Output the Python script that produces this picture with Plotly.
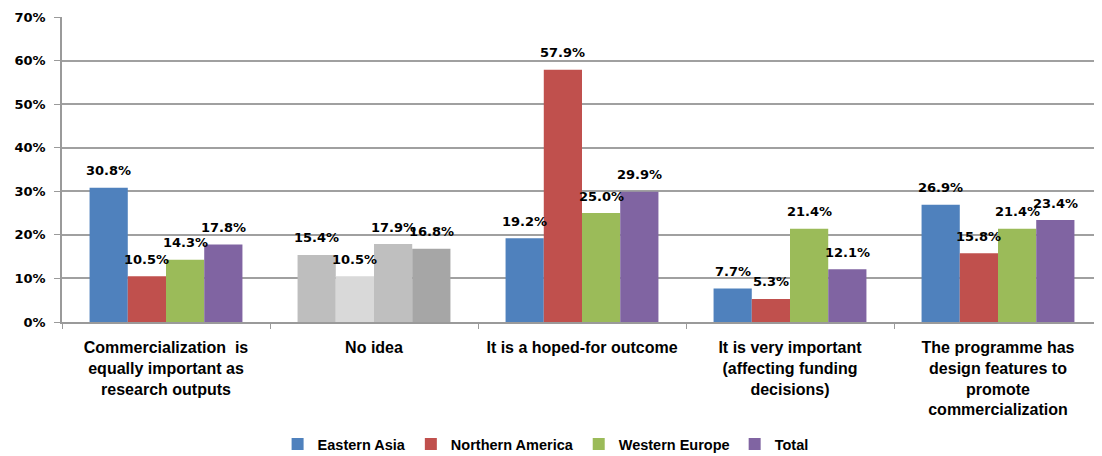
import plotly.graph_objects as go

categories = [
    "Commercialization  is<br>equally important as<br>research outputs",
    "No idea",
    "It is a hoped-for outcome",
    "It is very important<br>(affecting funding<br>decisions)",
    "The programme has<br>design features to<br>promote<br>commercialization",
]
series_names = ["Eastern Asia", "Northern America", "Western Europe", "Total"]
eastern_asia = [0.308, 0.154, 0.192, 0.077, 0.269]
northern_america = [0.105, 0.105, 0.579, 0.053, 0.158]
western_europe = [0.143, 0.179, 0.250, 0.214, 0.214]
total = [0.178, 0.168, 0.299, 0.121, 0.234]
series_values = [eastern_asia, northern_america, western_europe, total]
series_colors = ["#4F81BD", "#C0504D", "#9BBB59", "#8064A2"]
no_idea_colors = ["#BEBEBE", "#D9D9D9", "#BFBFBF", "#A6A6A6"]
y_ticks = [0, 0.1, 0.2, 0.3, 0.4, 0.5, 0.6, 0.7]

# layout geometry (page body has an 8px margin)
W, H = 1094, 448
ML, MR, MT, MB = 54, 0, 9, 134
BARGAP = 0.265
plot_w = W - ML - MR
plot_h = H - MT - MB
cat_w = plot_w / len(categories)
bar_w = cat_w * (1 - BARGAP) / len(series_names)

fig = go.Figure()
annotations = []
for i, (name, vals) in enumerate(zip(series_names, series_values)):
    colors = [series_colors[i]] * len(categories)
    colors[1] = no_idea_colors[i]
    fig.add_trace(go.Bar(
        name=name,
        x=categories,
        y=vals,
        marker=dict(color=colors, line=dict(width=0)),
        showlegend=True,
    ))
    offset = (i - (len(series_names) - 1) / 2) * bar_w
    for cat, v in zip(categories, vals):
        annotations.append(dict(
            x=cat, y=v, xref="x", yref="y",
            text=f"{v*100:.1f}%", showarrow=False,
            xshift=offset, yshift=17, yanchor="middle",
            font=dict(family="DejaVu Sans", size=13, color="#000000", weight="bold"),
        ))

fig.update_layout(
    width=W, height=H,
    margin=dict(l=ML, r=MR, t=MT, b=MB, autoexpand=False),
    paper_bgcolor="white", plot_bgcolor="white",
    barmode="group", bargap=BARGAP, bargroupgap=0,
    font=dict(family="Liberation Sans", color="#000000"),
    annotations=annotations,
    legend=dict(orientation="h", x=0.465, xanchor="center", y=-(436 - MT - plot_h) / plot_h,
                yanchor="middle",
                font=dict(family="Liberation Sans", size=14.5, weight="bold"),
                itemwidth=30, traceorder="normal"),
    xaxis=dict(
        type="category", automargin=False,
        showline=True, linecolor="#9a9a9a", linewidth=1.5,
        ticks="outside", tickson="boundaries", ticklen=5, tickcolor="#9a9a9a",
        ticklabelstandoff=10,
        tickfont=dict(family="Liberation Sans", size=16, weight="bold"),
        showgrid=False,
    ),
    yaxis=dict(
        range=[0, 0.7], tickvals=y_ticks, tickformat=".0%", automargin=False,
        showline=True, linecolor="#9a9a9a", linewidth=1.5,
        ticks="outside", ticklen=6, tickcolor="#9a9a9a",
        ticklabelstandoff=6,
        showgrid=True, gridcolor="#a0a0a0", gridwidth=1.5,
        tickfont=dict(family="DejaVu Sans", size=13, weight="bold"),
        zeroline=False,
    ),
)

fig.write_html("out.html")
